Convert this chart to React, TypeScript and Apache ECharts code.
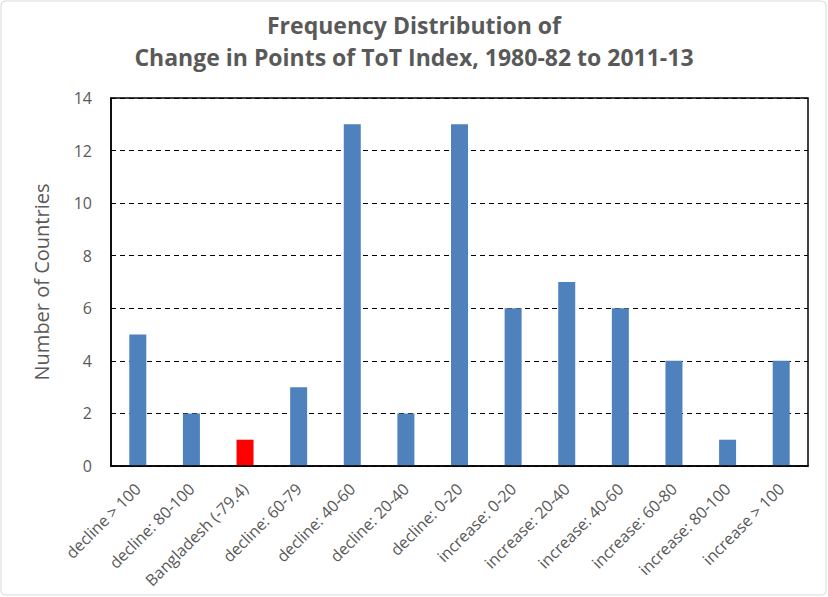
import React, { useEffect, useRef } from "react";
import * as echarts from "echarts";

const categories = [
  "decline > 100",
  "decline: 80-100",
  "Bangladesh (-79.4)",
  "decline: 60-79",
  "decline: 40-60",
  "decline: 20-40",
  "decline: 0-20",
  "increase: 0-20",
  "increase: 20-40",
  "increase: 40-60",
  "increase: 60-80",
  "increase: 80-100",
  "increase > 100",
];
const counts = [5, 2, 1, 3, 13, 2, 13, 6, 7, 6, 4, 1, 4];
const highlightCategory = "Bangladesh (-79.4)";
const yTicks = [0, 2, 4, 6, 8, 10, 12, 14];

const FONT = "Open Sans";

export default function App() {
  const ref = useRef<HTMLDivElement>(null);
  useEffect(() => {
    if (!ref.current) return;
    const chart = echarts.init(ref.current, null, { renderer: "svg" });
    chart.setOption({
      animation: false,
      backgroundColor: "#ffffff",
      title: {
        text: "Frequency Distribution of\nChange in Points of ToT Index, 1980-82 to 2011-13",
        left: "center",
        top: 4,
        textStyle: {
          fontFamily: FONT,
          fontSize: 23,
          fontWeight: "bold",
          color: "#595959",
          lineHeight: 32,
        },
      },
      graphic: [
        {
          type: "rect",
          shape: { x: 1, y: 1, width: 825, height: 594, r: 4 },
          style: { fill: "none", stroke: "#d9d9d9", lineWidth: 1 },
          silent: true,
        },
        {
          type: "rect",
          shape: { x: 111, y: 98, width: 697, height: 368 },
          style: { fill: "none", stroke: "#000000", lineWidth: 1.5 },
          silent: true,
          z: 10,
        },
      ],
      grid: { left: 111, right: 20, top: 98, bottom: 131 },
      xAxis: {
        type: "category",
        data: categories,
        axisLine: { show: true, lineStyle: { color: "#000", width: 1.5 } },
        axisTick: { show: false },
        axisLabel: {
          interval: 0,
          rotate: 45,
          fontFamily: FONT,
          fontSize: 16,
          color: "#595959",
          margin: 20,
        },
      },
      yAxis: {
        type: "value",
        min: yTicks[0],
        max: yTicks[yTicks.length - 1],
        interval: 2,
        name: "Number of Countries",
        nameLocation: "middle",
        nameGap: 60,
        nameTextStyle: { fontFamily: FONT, fontSize: 20, color: "#595959" },
        axisLine: { show: true, lineStyle: { color: "#000", width: 1.5 } },
        axisTick: { show: false },
        axisLabel: { fontFamily: FONT, fontSize: 16, color: "#595959", margin: 19 },
        splitLine: { show: true, lineStyle: { color: "#000", type: [5, 4], width: 1 } },
      },
      series: [
        {
          type: "bar",
          barWidth: 17,
          data: counts.map((v, i) => ({
            value: v,
            itemStyle: { color: categories[i] === highlightCategory ? "#ff0000" : "#4f81bd" },
          })),
        },
      ],
    });
    return () => chart.dispose();
  }, []);
  return (
    <div
      ref={ref}
      style={{ position: "fixed", left: 0, top: 0, width: 828, height: 597 }}
    />
  );
}
